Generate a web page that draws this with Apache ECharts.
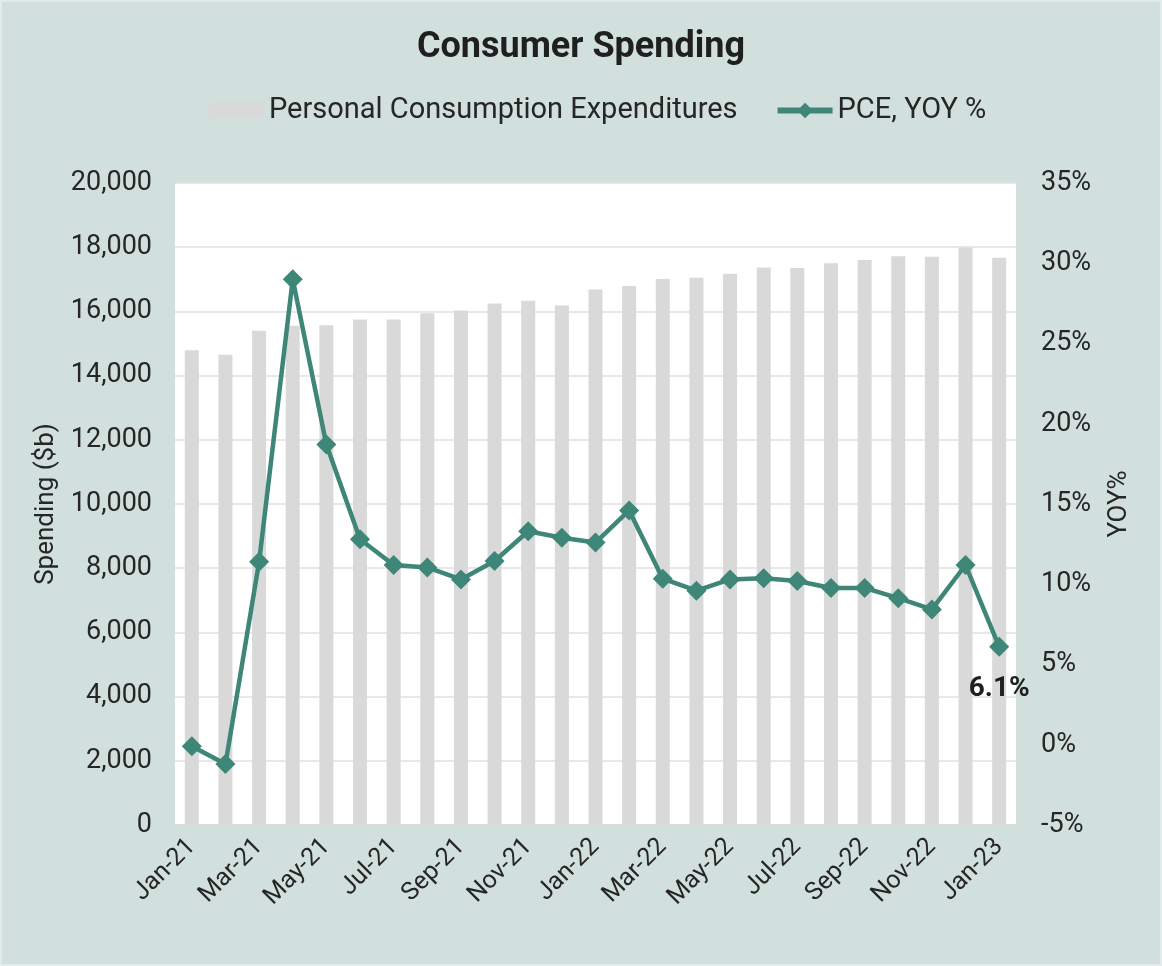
<!DOCTYPE html>
<html>
<head>
<meta charset="utf-8">
<title>Consumer Spending</title>
<script src="https://cdn.jsdelivr.net/npm/echarts@6/dist/echarts.min.js"></script>
<style>
  html, body { margin: 0; padding: 0; background: #d1e0dd; }
  #chart { width: 1162px; height: 966px; box-sizing: border-box; border: 2px solid #e2ebe9; }
</style>
</head>
<body>
<div id="chart"></div>
<script>
// Monthly categories, Jan 2021 – Jan 2023
const months = [
  'Jan-21','Feb-21','Mar-21','Apr-21','May-21','Jun-21','Jul-21','Aug-21','Sep-21','Oct-21','Nov-21','Dec-21',
  'Jan-22','Feb-22','Mar-22','Apr-22','May-22','Jun-22','Jul-22','Aug-22','Sep-22','Oct-22','Nov-22','Dec-22',
  'Jan-23'
];

// Personal consumption expenditures, $ billions
const pceSpending = [
  14790, 14650, 15400, 15550, 15570, 15750, 15750, 15940, 16030, 16250, 16330, 16180,
  16680, 16790, 17010, 17050, 17170, 17370, 17350, 17500, 17600, 17720, 17700, 17990,
  17670
];

// PCE year-over-year change, %
const pceYoy = [
  -0.1, -1.2, 11.4, 29.0, 18.7, 12.8, 11.2, 11.05, 10.3, 11.45, 13.3, 12.9,
  12.6, 14.6, 10.35, 9.6, 10.3, 10.37, 10.2, 9.77, 9.77, 9.13, 8.43, 11.2,
  6.1
];

const leftTicks = { min: 0, max: 20000, interval: 2000 };
const rightTicks = { min: -5, max: 35, interval: 5 };

const FONT = 'Roboto';
const TEXT = '#262626';
const GREEN = '#3e8677';
const BAR = '#d9d9d9';
const AXIS_FONT = 27;

// Legend glyph for the line series: a thick stroke with a diamond marker in the middle
const LINE_DIAMOND_ICON =
  'path://M0,5 L23.5,5 L28.5,0 L33.5,5 L57,5 L57,11 L33.5,11 L28.5,16 L23.5,11 L0,11 Z';

const chart = echarts.init(document.getElementById('chart'), null, { renderer: 'canvas' });

const lastIdx = pceYoy.length - 1;
const yoyData = pceYoy.map((v, i) => i === lastIdx ? {
  value: v,
  label: {
    show: true,
    position: 'bottom',
    distance: 18,
    formatter: v.toFixed(1) + '%',
    fontFamily: FONT,
    fontWeight: 'bold',
    fontSize: 28,
    color: '#1f1f1f'
  }
} : v);

chart.setOption({
  backgroundColor: '#d1e0dd',
  textStyle: { fontFamily: FONT },
  title: {
    text: 'Consumer Spending',
    left: 'center',
    top: 23,
    textStyle: { fontFamily: FONT, fontWeight: 'bold', fontSize: 36, color: '#1f1f1f' }
  },
  legend: {
    top: 89,
    left: 202,
    itemGap: 40,
    itemWidth: 55,
    itemHeight: 16,
    textStyle: { fontFamily: FONT, fontSize: 29, color: TEXT },
    data: [
      { name: 'Personal Consumption Expenditures', icon: 'rect' },
      { name: 'PCE, YOY %', icon: LINE_DIAMOND_ICON, itemStyle: { color: GREEN } }
    ]
  },
  grid: {
    left: 173,
    right: 144,
    top: 181,
    bottom: 139,
    show: true,
    backgroundColor: '#ffffff',
    borderWidth: 0
  },
  xAxis: {
    type: 'category',
    data: months,
    boundaryGap: true,
    axisLine: { show: true, lineStyle: { color: '#d9d9d9', width: 1.5 } },
    axisTick: { show: true, interval: 1, length: 6, lineStyle: { color: '#d9d9d9' } },
    axisLabel: {
      interval: 1,
      rotate: 45,
      margin: 18,
      fontFamily: FONT,
      fontSize: 25,
      color: TEXT
    }
  },
  yAxis: [
    {
      type: 'value',
      min: leftTicks.min,
      max: leftTicks.max,
      interval: leftTicks.interval,
      name: 'Spending ($b)',
      nameLocation: 'middle',
      nameRotate: 90,
      nameGap: 112,
      nameTextStyle: { fontFamily: FONT, fontSize: 26, color: TEXT },
      axisLine: { show: false },
      axisTick: { show: false },
      axisLabel: {
        margin: 23,
        fontFamily: FONT,
        fontSize: AXIS_FONT,
        color: TEXT,
        formatter: v => v.toLocaleString('en-US')
      },
      splitLine: { show: true, lineStyle: { color: '#e0e0e0', width: 1.5 } }
    },
    {
      type: 'value',
      position: 'right',
      min: rightTicks.min,
      max: rightTicks.max,
      interval: rightTicks.interval,
      name: 'YOY%',
      nameLocation: 'middle',
      nameRotate: 90,
      nameGap: 90,
      nameTextStyle: { fontFamily: FONT, fontSize: 26, color: TEXT },
      axisLine: { show: false },
      axisTick: { show: false },
      axisLabel: {
        margin: 25,
        fontFamily: FONT,
        fontSize: AXIS_FONT,
        color: TEXT,
        formatter: '{value}%'
      },
      splitLine: { show: false }
    }
  ],
  series: [
    {
      name: 'Personal Consumption Expenditures',
      type: 'bar',
      yAxisIndex: 0,
      data: pceSpending,
      barWidth: 14,
      itemStyle: { color: BAR },
      z: 2
    },
    {
      name: 'PCE, YOY %',
      type: 'line',
      yAxisIndex: 1,
      data: yoyData,
      symbol: 'diamond',
      symbolSize: 20,
      showAllSymbol: true,
      lineStyle: { color: GREEN, width: 4.5 },
      itemStyle: { color: GREEN },
      z: 3
    }
  ],
  animation: false
});
</script>
</body>
</html>
